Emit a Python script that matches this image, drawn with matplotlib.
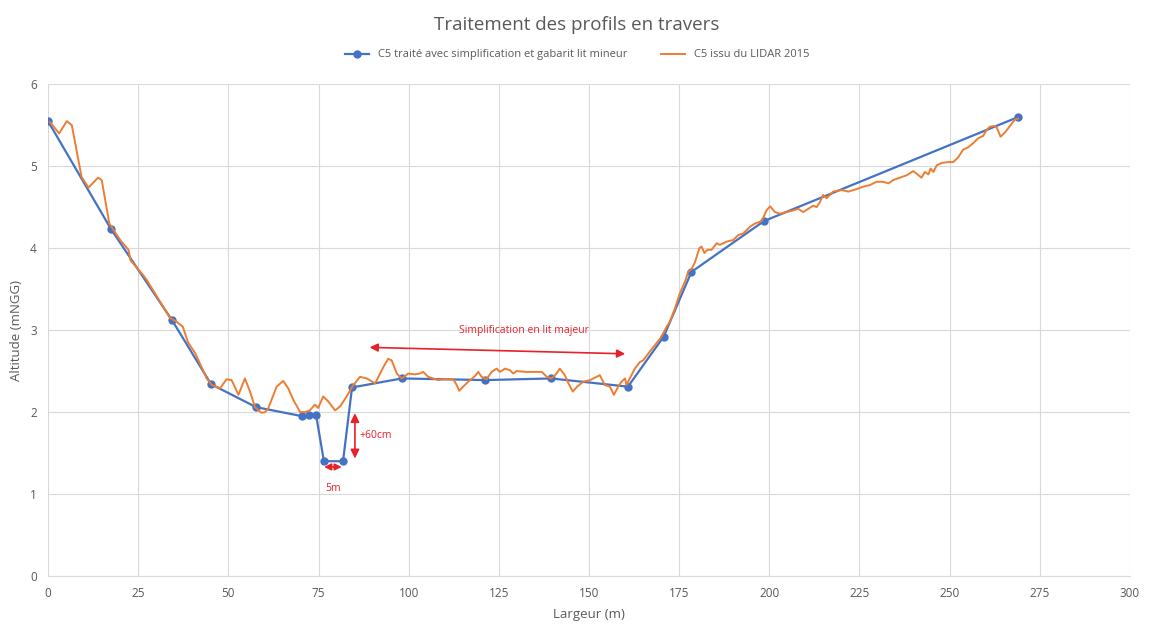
import matplotlib.pyplot as plt

# profil simplifie (bleu)
x_simpl = [0, 17.5, 34.4, 45.2, 57.7, 70.4, 72.4, 74.3, 76.5, 81.8, 84.3, 98.1, 121.2, 139.5, 160.8, 170.7, 178.4, 198.5, 269]
z_simpl = [5.55, 4.23, 3.12, 2.34, 2.06, 1.95, 1.97, 1.97, 1.40, 1.40, 2.30, 2.41, 2.39, 2.41, 2.31, 2.92, 3.71, 4.33, 5.60]

# profil LIDAR 2015 (orange)
x_lidar = [0.5, 3.1, 5.2, 6.6, 9.3, 11.2, 13.9, 14.9, 17.0, 20.0, 22.3, 22.9, 26.4, 27.4, 33.8, 35.7,
           37.4, 38.8, 40.8, 44.0, 45.4, 47.7, 49.5, 50.9, 52.8, 54.6, 56.0, 57.4, 59.2, 60.2, 61.1,
           63.4, 65.2, 66.6, 68.0, 69.9, 71.3, 72.6, 74.0, 74.9, 76.3, 77.7, 79.6, 81.0, 82.8, 84.5,
           86.5, 88.4, 90.7, 93.0, 94.3, 95.3, 96.7, 98.1, 99.9, 101.7, 103.1, 104.0, 105.4, 106.8,
           108.2, 109.6, 112.4, 113.3, 114.0, 115.1, 116.5, 118.4, 119.3, 120.2, 121.6, 123.0, 124.4,
           125.3, 126.7, 128.1, 129.0, 129.9, 132.7, 135.5, 136.9, 138.3, 139.6, 141.0, 141.9, 143.3,
           144.3, 145.5, 146.7, 148.4, 150.3, 152.1, 153.0, 154.4, 155.8, 156.9, 158.1, 159.0, 160.0,
           160.4, 161.3, 162.7, 164.1, 165.0, 166.9, 168.7, 170.1, 171.5, 172.4, 173.8, 175.2, 176.6,
           177.5, 178.5, 179.4, 180.6, 181.2, 182.0, 182.8, 184.0, 185.4, 186.3, 188.2, 190.0, 191.4,
           192.8, 194.6, 196.0, 197.9, 199.2, 200.2, 201.6, 202.9, 204.8, 206.6, 208.0, 209.4, 210.8,
           212.2, 213.1, 214.0, 214.9, 215.9, 216.8, 217.7, 220.0, 221.9, 224.2, 226.0, 227.9, 229.7,
           231.6, 233.0, 234.3, 236.2, 238.1, 239.9, 240.8, 242.2, 243.1, 244.1, 244.7, 245.5, 246.4,
           247.8, 249.6, 251.0, 252.4, 253.7, 255.1, 256.5, 257.9, 259.3, 260.2, 261.1, 262.1, 263.0,
           264.1, 265.3, 266.7, 268.1, 269.0]
z_lidar = [5.54, 5.40, 5.55, 5.50, 4.87, 4.74, 4.86, 4.83, 4.30, 4.10, 3.98, 3.85, 3.67, 3.61, 3.15, 3.10,
           3.04, 2.85, 2.72, 2.41, 2.33, 2.29, 2.40, 2.39, 2.21, 2.41, 2.25, 2.06, 1.99, 2.00, 2.05,
           2.31, 2.38, 2.29, 2.15, 2.00, 2.00, 2.02, 2.09, 2.05, 2.19, 2.13, 2.02, 2.07, 2.19, 2.32,
           2.43, 2.41, 2.35, 2.55, 2.65, 2.63, 2.47, 2.41, 2.47, 2.46, 2.47, 2.49, 2.43, 2.41,
           2.39, 2.40, 2.40, 2.33, 2.26, 2.31, 2.37, 2.44, 2.49, 2.43, 2.40, 2.49, 2.53,
           2.49, 2.53, 2.51, 2.47, 2.50, 2.49, 2.49, 2.49, 2.43, 2.41, 2.47, 2.53, 2.45,
           2.35, 2.25, 2.31, 2.37, 2.39, 2.43, 2.45, 2.33, 2.31, 2.21, 2.31, 2.37, 2.41,
           2.33, 2.41, 2.53, 2.61, 2.63, 2.74, 2.84, 2.92, 3.04, 3.10, 3.26, 3.45, 3.59,
           3.71, 3.75, 3.83, 4.00, 4.02, 3.94, 3.98, 3.98, 4.06, 4.04, 4.08, 4.10, 4.16,
           4.18, 4.26, 4.30, 4.33, 4.46, 4.51, 4.44, 4.42, 4.44, 4.46, 4.48, 4.44, 4.48,
           4.52, 4.50, 4.56, 4.65, 4.61, 4.65, 4.69, 4.71, 4.69, 4.72, 4.75, 4.77, 4.81,
           4.81, 4.79, 4.83, 4.86, 4.89, 4.94, 4.91, 4.86, 4.93, 4.90, 4.97, 4.93, 5.01,
           5.04, 5.05, 5.05, 5.11, 5.20, 5.23, 5.28, 5.34, 5.37, 5.44, 5.48, 5.49, 5.48,
           5.36, 5.41, 5.49, 5.57, 5.58]

x_ticks = [0, 25, 50, 75, 100, 125, 150, 175, 200, 225, 250, 275, 300]
y_ticks = [0, 1, 2, 3, 4, 5, 6]

grey = '#595959'
red = '#e8202a'
plt.rcParams['font.family'] = ['Open Sans', 'DejaVu Sans']

fig = plt.figure(figsize=(11.54, 6.24), dpi=100)
ax = fig.add_axes([0.0416, 0.077, 0.9376, 0.788])

ax.plot(x_simpl, z_simpl, color='#4472C4', lw=1.6, marker='o', ms=5,
        label='C5 traité avec simplification et gabarit lit mineur', zorder=2)
ax.plot(x_lidar, z_lidar, color='#ED7D31', lw=1.4,
        label='C5 issu du LIDAR 2015', zorder=3)

ax.set_xlim(0, 300)
ax.set_ylim(0, 6)
ax.set_xticks(x_ticks)
ax.set_yticks(y_ticks)
ax.grid(color='#d9d9d9', lw=0.8)
ax.set_axisbelow(True)
for s in ['top', 'right', 'left']:
    ax.spines[s].set_visible(False)
ax.spines['bottom'].set_color('#d9d9d9')
ax.tick_params(length=0, colors=grey, labelsize=8.5, pad=8)
ax.set_xlabel('Largeur (m)', color=grey, fontsize=9.5, labelpad=6)
ax.set_ylabel('Altitude (mNGG)', color=grey, fontsize=9.5, labelpad=5)

# annotations
ax.annotate('', xy=(88.4, 2.79), xytext=(160.8, 2.71),
            arrowprops=dict(arrowstyle='<|-|>', color=red, lw=1.2, mutation_scale=12))
ax.text(132, 3.0, 'Simplification en lit majeur', color=red, fontsize=7.5, ha='center', va='center')
ax.annotate('', xy=(85.1, 2.02), xytext=(85.1, 1.40),
            arrowprops=dict(arrowstyle='<|-|>', color=red, lw=1.2, mutation_scale=13))
ax.text(86.3, 1.71, '+60cm', color=red, fontsize=7.5, ha='left', va='center')
ax.annotate('', xy=(75.8, 1.33), xytext=(82.2, 1.33),
            arrowprops=dict(arrowstyle='<|-|>', color=red, lw=1.2, mutation_scale=10))
ax.text(79, 1.07, '5m', color=red, fontsize=7.5, ha='center', va='center')

fig.suptitle('Traitement des profils en travers', color=grey, fontsize=13.5, y=0.975)
fig.legend(loc='center', bbox_to_anchor=(0.5, 0.912), ncol=2, frameon=False,
           fontsize=8, labelcolor=grey, handlelength=2.2, columnspacing=3)

fig.savefig('out.png', dpi=100)
